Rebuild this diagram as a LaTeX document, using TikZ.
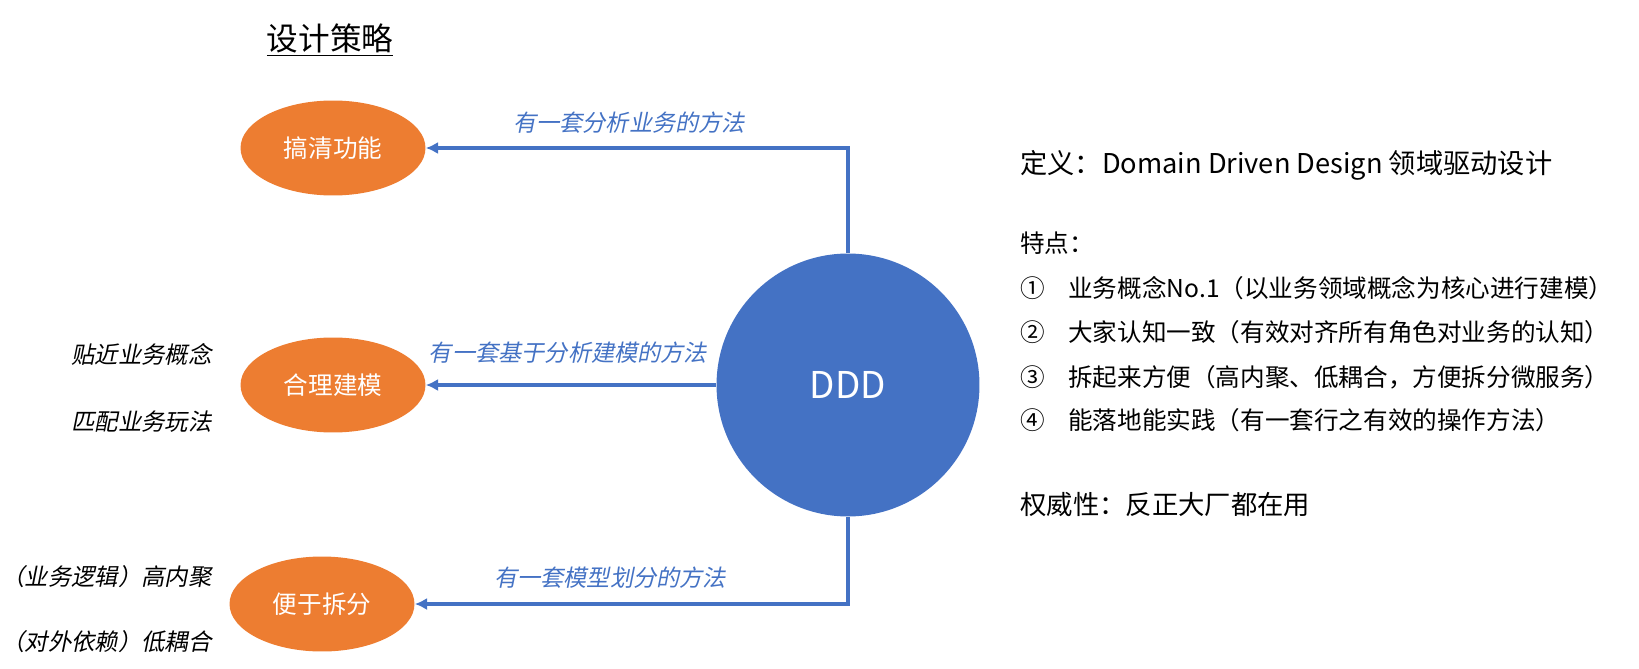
\documentclass[tikz,border=0pt]{standalone}
\usepackage{fontspec}
\setmainfont{Noto Sans CJK SC}
\newfontfamily\cjkit[FakeSlant=0.2]{Noto Sans CJK SC}
\usepackage{tikz}
\usetikzlibrary{arrows.meta,positioning,calc,shapes}
\usepackage{xcolor}
\definecolor{dddblue}{HTML}{4472C4}
\definecolor{pptorange}{HTML}{ED7D31}

\begin{document}
\begin{tikzpicture}[x=0.02cm, y=-0.02cm,
    goal/.style={ellipse, fill=pptorange, text=white, minimum width=3.7cm, minimum height=1.9cm, inner sep=0pt, font=\fontsize{14}{16}\selectfont},
    method/.style={text=dddblue, font=\cjkit\fontsize{13.2}{15}\selectfont},
    note/.style={anchor=east, inner sep=0pt, font=\cjkit\fontsize{13.3}{16}\selectfont},
    feature/.style={anchor=west, inner sep=0pt, font=\fontsize{14}{16}\selectfont},
    link/.style={draw=dddblue, line width=2pt, -{Latex[length=7pt,width=7pt]}}]
  \useasboundingbox (0,0) rectangle (1639,669);

  \node (title) at (330,40) {\fontsize{18}{20}\selectfont\underline{设计策略}};

  \node (e1) [goal] at (333,148) {搞清功能};
  \node (e2) [goal] at (333,385) {合理建模};
  \node (e3) [goal] at (322,604) {便于拆分};

  \node (ddd) [circle, fill=dddblue, text=white, minimum size=5.26cm, inner sep=0pt,
    font=\fontsize{21}{24}\selectfont] at (848,385) {DDD};

  \node (m1) [method] at (629,123) {有一套分析业务的方法};
  \node (m2) [method] at (568,353) {有一套基于分析建模的方法};
  \node (m3) [method] at (610,578) {有一套模型划分的方法};

  \node (n1) [note] at (212,354) {贴近业务概念};
  \node (n2) [note] at (212,422) {匹配业务玩法};
  \node (n3) [note] at (212,577) {（业务逻辑）高内聚};
  \node (n4) [note] at (212,642) {（对外依赖）低耦合};

  \node (def) [anchor=west, inner sep=0pt, font=\fontsize{15.5}{18}\selectfont] at (1020,165)
    {定义：Domain Driven Design 领域驱动设计};
  \node (feat) [feature] at (1020,243) {特点：};
  \node (k1) [feature] at (1020,288) {①};
  \node (f1) [feature] at (1068,288) {业务概念No.1（以业务领域概念为核心进行建模）};
  \node (k2) [feature] at (1020,332) {②};
  \node (f2) [feature] at (1068,332) {大家认知一致（有效对齐所有角色对业务的认知）};
  \node (k3) [feature] at (1020,377) {③};
  \node (f3) [feature] at (1068,377) {拆起来方便（高内聚、低耦合，方便拆分微服务）};
  \node (k4) [feature] at (1020,420) {④};
  \node (f4) [feature] at (1068,420) {能落地能实践（有一套行之有效的操作方法）};
  \node (auth) [anchor=west, inner sep=0pt, font=\fontsize{15}{18}\selectfont] at (1020,505)
    {权威性：反正大厂都在用};

  \draw[link] (ddd.north) |- (e1.east);
  \draw[link] (ddd.west) -- (e2.east);
  \draw[link] (ddd.south) |- (e3.east);
\end{tikzpicture}
\end{document}
